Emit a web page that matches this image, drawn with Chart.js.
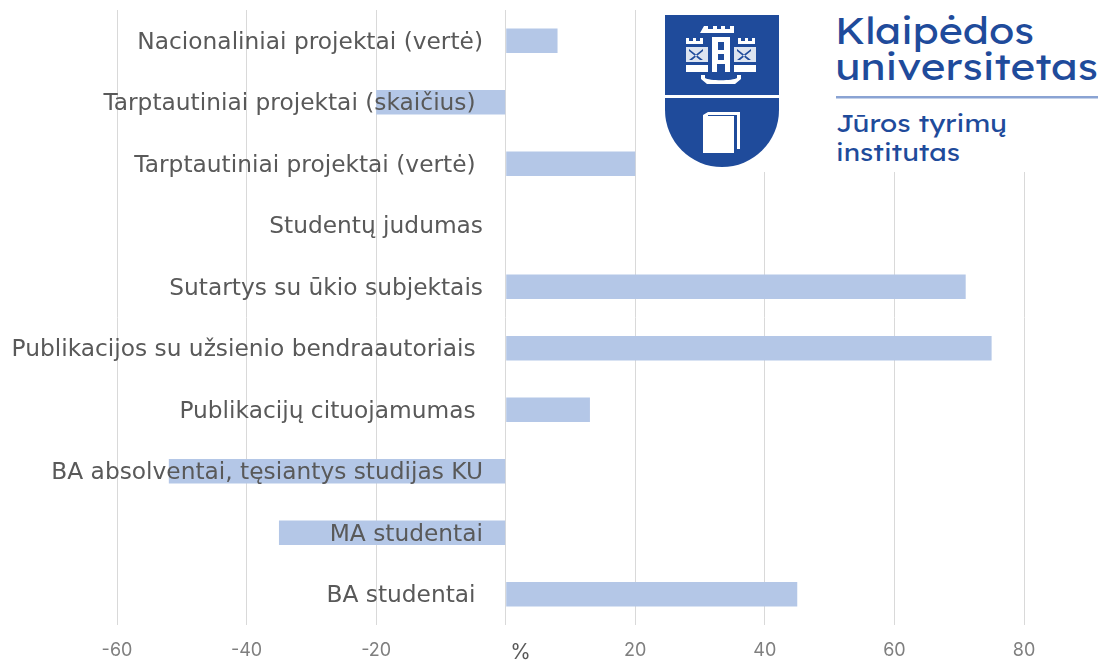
<!DOCTYPE html>
<html>
<head>
<meta charset="utf-8">
<style>
html,body{margin:0;padding:0;background:#fff;width:1115px;height:661px;overflow:hidden}
#wrap{position:relative;width:1115px;height:661px}
canvas{position:absolute;left:0;top:0}
#logo{position:absolute;left:637px;top:0;width:478px;height:172px;background:#fff}
</style>
<script src="https://cdn.jsdelivr.net/npm/chart.js@4"></script>
</head>
<body>
<div id="wrap">
<canvas id="c" width="1115" height="661"></canvas>
<svg id="logo" viewBox="637 0 478 172" xmlns="http://www.w3.org/2000/svg">
  <path d="M665 15H779V95H665Z" fill="#1f4b9b"/>
  <path d="M665 98H779V110A57 57 0 0 1 665 110Z" fill="#1f4b9b"/>
  <g fill="#fff">
    <path d="M704 26h4v3h5v-3h4v3h4v-3h4v3h5v-3h4v7h-34z"/>
    <path d="M686 38h3v3h4v-3h3v3h4v-3h3v6h-17z"/>
    <path d="M738 38h3v3h4v-3h3v3h4v-3h3v6h-17z"/>
    <path d="M712 37h18v35h-5v-8h-8v8h-5zM718 42v8h6v-8zM718 54v6h6v-6z" fill-rule="evenodd"/>
    <path d="M686 47h22v15h-22zM734 47h22v15h-22z" opacity=".85"/>
    <path d="M686 65h22v7h-22zM734 65h22v7h-22z"/>
    <path d="M701 75h4v3c4 3 28 3 32 0v-3h4v4l-6 5h-28l-6-5z"/>
    <path d="M703 115l5-3h32v37h-3v-34h-29v38h-5z"/>
    <rect x="705" y="116" width="29" height="37"/>
  </g>
  <g fill="#1f4b9b">
    <path d="M689 49l14 11h-3l-11-9zM703 49l-14 11h3l11-9zM737 49l14 11h-3l-11-9zM751 49l-14 11h3l11-9z"/>
  </g>
  <g fill="#1f4b9b" font-family="Lexend, Inter, 'Noto Sans', sans-serif">
    <text x="835" y="44" font-size="37" textLength="199" lengthAdjust="spacingAndGlyphs">Klaipėdos</text>
    <text x="835" y="80" font-size="37" textLength="263" lengthAdjust="spacingAndGlyphs">universitetas</text>
    <text x="836" y="132" font-size="24" textLength="171" lengthAdjust="spacingAndGlyphs">Jūros tyrimų</text>
    <text x="836" y="161" font-size="24" textLength="124" lengthAdjust="spacingAndGlyphs">institutas</text>
  </g>
  <rect x="836" y="96" width="262" height="2.5" fill="#8aa3d3"/>
</svg>
</div>
<script>
const categories = [
  "Nacionaliniai projektai (vertė)",
  "Tarptautiniai projektai (skaičius) ",
  "Tarptautiniai projektai (vertė) ",
  "Studentų judumas",
  "Sutartys su ūkio subjektais",
  "Publikacijos su užsienio bendraautoriais ",
  "Publikacijų cituojamumas ",
  "BA absolventai, tęsiantys studijas KU",
  "MA studentai",
  "BA studentai "
];
const values = [8, -20, 20, 0, 71, 75, 13, -52, -35, 45];
const xTicks = [-60, -40, -20, 0, 20, 40, 60, 80];
const zeroLabel = "     %";

new Chart(document.getElementById('c'), {
  type: 'bar',
  data: {
    labels: categories,
    datasets: [{
      data: values,
      backgroundColor: '#b4c7e7',
      borderWidth: 0,
      categoryPercentage: 0.8,
      barPercentage: 0.5
    }]
  },
  options: {
    indexAxis: 'y',
    responsive: false,
    animation: false,
    layout: { padding: { top: 10, right: 91, left: 0, bottom: 0 } },
    plugins: { legend: { display: false }, tooltip: { enabled: false } },
    scales: {
      x: {
        min: -60,
        max: 80,
        afterBuildTicks: s => { s.ticks = xTicks.map(v => ({ value: v })); },
        afterFit: s => { s.height = 36; },
        grid: { color: '#d9d9d9', lineWidth: 1, drawTicks: false },
        border: { display: false },
        ticks: {
          autoSkip: false,
          maxRotation: 0,
          padding: 15,
          color: ctx => ctx.tick.value === 0 ? '#595959' : '#7f7f7f',
          font: ctx => ({ family: 'Inter', size: ctx.tick && ctx.tick.value === 0 ? 21 : 18 }),
          callback: v => v === 0 ? zeroLabel : String(v)
        }
      },
      y: {
        afterFit: s => { s.width = 117; s._computeLabelArea = () => undefined; },
        grid: { display: false, drawTicks: false },
        border: { display: false },
        ticks: {
          z: 1,
          autoSkip: false,
          padding: -366,
          labelOffset: 2,
          color: '#595959',
          font: { family: 'DejaVu Sans', size: 23.3 }
        }
      }
    }
  }
});
</script>
</body>
</html>
